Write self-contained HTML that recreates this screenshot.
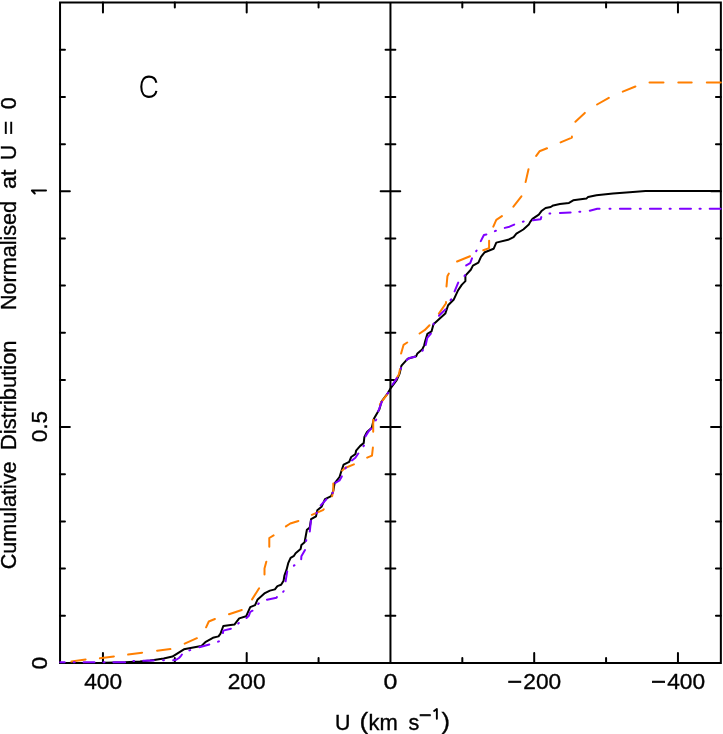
<!DOCTYPE html>
<html><head><meta charset="utf-8"><title>plot</title>
<style>
html,body{margin:0;padding:0;background:#fff;}
body{width:723px;height:734px;overflow:hidden;}
svg{display:block;}
text{font-family:"Liberation Sans",sans-serif;fill:#000;stroke:#000;stroke-width:0.35px;}
text.mn{stroke-width:0.7px;}
</style></head><body>
<svg width="723" height="734" viewBox="0 0 723 734">
<rect x="0" y="0" width="723" height="734" fill="#fff"/>
<g fill="none" stroke="#000" stroke-width="2" stroke-linecap="butt">
<path d="M60.05,2.60 H720.85 V662.90 H60.05 Z"/>
<path d="M390.45,2.60 V662.90"/>
<path d="M677.95,662.90 v-9.80 M677.95,2.60 v9.80 M606.08,662.90 v-4.90 M606.08,2.60 v4.90 M534.20,662.90 v-9.80 M534.20,2.60 v9.80 M462.32,662.90 v-4.90 M462.32,2.60 v4.90 M318.57,662.90 v-4.90 M318.57,2.60 v4.90 M246.70,662.90 v-9.80 M246.70,2.60 v9.80 M174.82,662.90 v-4.90 M174.82,2.60 v4.90 M102.95,662.90 v-9.80 M102.95,2.60 v9.80 M60.05,615.74 h4.90 M720.85,615.74 h-4.90 M385.55,615.74 h9.80 M60.05,568.58 h4.90 M720.85,568.58 h-4.90 M385.55,568.58 h9.80 M60.05,521.42 h4.90 M720.85,521.42 h-4.90 M385.55,521.42 h9.80 M60.05,474.26 h4.90 M720.85,474.26 h-4.90 M385.55,474.26 h9.80 M60.05,427.10 h9.80 M720.85,427.10 h-9.80 M380.65,427.10 h19.60 M60.05,379.94 h4.90 M720.85,379.94 h-4.90 M385.55,379.94 h9.80 M60.05,332.78 h4.90 M720.85,332.78 h-4.90 M385.55,332.78 h9.80 M60.05,285.62 h4.90 M720.85,285.62 h-4.90 M385.55,285.62 h9.80 M60.05,238.46 h4.90 M720.85,238.46 h-4.90 M385.55,238.46 h9.80 M60.05,191.30 h9.80 M720.85,191.30 h-9.80 M380.65,191.30 h19.60 M60.05,144.14 h4.90 M720.85,144.14 h-4.90 M385.55,144.14 h9.80 M60.05,96.98 h4.90 M720.85,96.98 h-4.90 M385.55,96.98 h9.80 M60.05,49.82 h4.90 M720.85,49.82 h-4.90 M385.55,49.82 h9.80" stroke-linecap="round"/>
</g>
<path d="M60.0,662.9 L105.0,662.8 L125.0,662.3 L140.0,661.5 L150.0,660.6 L154.0,659.9 L163.7,658.4 L172.4,656.6 L183.9,649.3 L201.2,646.1 L205.3,642.2 L212.9,637.8 L218.5,636.4 L220.5,633.6 L223.3,626.0 L234.4,624.6 L239.2,618.4 L246.1,616.3 L250.2,607.1 L255.1,605.1 L257.4,599.8 L264.9,593.1 L269.9,590.6 L274.9,589.4 L277.4,586.1 L281.1,584.8 L283.6,580.7 L284.4,575.7 L286.5,569.9 L288.2,563.2 L290.6,557.8 L294.0,555.8 L295.6,553.3 L300.6,549.1 L301.4,545.0 L304.6,542.3 L306.9,529.7 L309.7,527.6 L311.1,519.2 L316.0,516.4 L317.3,510.2 L321.5,506.8 L325.0,499.2 L331.2,496.1 L333.3,490.9 L334.6,483.3 L339.5,477.0 L341.5,470.8 L343.6,464.6 L349.2,461.8 L351.2,457.0 L355.4,454.2 L356.1,450.7 L360.2,445.9 L363.7,443.1 L364.4,436.9 L367.0,432.0 L371.8,427.8 L373.9,418.8 L379.4,409.2 L381.5,401.5 L387.7,393.3 L390.5,388.4 L396.7,380.1 L399.5,373.9 L401.5,365.6 L407.8,358.7 L416.1,356.3 L417.4,353.4 L422.4,349.2 L424.2,345.3 L425.3,340.8 L427.4,333.9 L431.5,331.4 L433.5,324.3 L438.4,319.8 L445.3,313.6 L448.1,305.3 L453.6,299.8 L457.8,290.8 L461.9,284.6 L465.4,281.1 L465.4,275.6 L470.8,269.8 L472.9,265.6 L478.4,262.6 L481.0,256.8 L484.8,252.2 L493.6,248.8 L496.3,242.6 L508.1,239.8 L513.6,237.1 L516.4,233.6 L523.3,229.5 L528.8,224.6 L530.2,221.9 L532.5,218.9 L538.8,214.6 L541.8,210.7 L545.6,208.0 L550.7,207.0 L553.2,205.4 L559.9,204.1 L569.0,202.9 L573.2,200.3 L586.4,198.6 L588.1,196.9 L596.4,195.2 L613.0,193.5 L629.6,192.2 L645.5,191.0 L721.0,191.0" fill="none" stroke="#000" stroke-width="2" stroke-linejoin="round"/>
<path d="M71.4,661.5 L85.6,659.5 M99.9,658.3 L113.9,656.4 M128.1,654.6 L142.1,652.7 M157.1,650.7 L170.4,649.1 M184.7,643.6 L196.9,638.2 M206.1,627.3 L208.8,621.5 L214.9,619.0 M229.0,614.2 L241.8,610.0 M252.1,599.4 L259.1,588.3 M264.5,574.4 L264.5,568.4 L266.3,561.7 M269.3,546.8 L269.3,538.0 L273.6,535.4 M285.9,526.4 L290.3,523.5 L298.4,521.0 M311.9,514.8 L322.9,510.2 L323.7,509.3 M332.1,496.2 L333.3,490.9 L333.3,483.5 M342.2,470.5 L345.0,468.0 L353.9,464.3 M367.2,457.7 L372.0,455.6 L372.9,447.5 M373.2,431.8 L373.2,419.7 M379.9,404.3 L384.3,398.1 L387.1,394.7 M395.1,380.7 L398.8,374.6 L400.0,369.3 M401.1,353.6 L403.6,344.8 L407.2,342.5 M419.6,333.5 L424.6,330.2 L429.5,325.3 M438.9,313.6 L446.0,303.3 L446.0,302.1 M446.5,286.4 L447.4,276.3 L448.8,273.6 M457.1,261.5 L470.0,256.2 M483.3,250.3 L489.1,248.1 L489.1,240.7 M493.3,226.6 L496.3,219.8 L501.9,216.1 M513.4,206.6 L521.4,196.3 M525.6,182.1 L528.5,169.2 M536.2,155.9 L539.5,151.3 L547.0,148.3 M560.6,142.4 L571.9,137.6 L571.9,136.6 M575.4,121.7 L584.8,112.9 M597.1,104.5 L608.8,97.8 M622.8,91.6 L635.4,86.5 M649.5,82.5 L663.5,82.5 M678.3,82.5 L691.7,82.5 M706.8,82.5 L720.8,82.5" fill="none" stroke="#ff7f00" stroke-width="2" stroke-linejoin="round" stroke-linecap="round"/>
<path d="M60.2,662.2 L64.7,662.2 M73.7,662.2 L74.7,662.2 M83.6,662.2 L94.5,662.2 M103.5,662.2 L104.5,662.2 M113.4,662.2 L125.1,662.2 M133.4,660.9 L134.1,660.9 M143.1,660.8 L153.8,660.5 M163.1,660.2 L163.9,660.2 M173.2,660.3 L176.0,659.8 L179.0,658.0 L181.0,655.8 L181.9,654.5 M189.4,650.4 L190.2,650.1 M199.3,647.3 L209.3,644.5 M218.1,641.7 L218.9,641.3 M222.9,633.1 L223.3,630.6 L230.9,628.7 M238.2,623.6 L238.8,623.0 M246.5,618.0 L248.9,615.7 L250.2,612.0 L252.5,610.7 M258.2,604.0 L258.8,603.4 M267.0,599.7 L276.5,597.7 L276.9,597.0 M283.2,591.8 L283.6,591.2 M285.6,581.3 L287.2,571.4 M293.9,565.6 L294.5,565.2 M301.2,559.2 L301.4,556.2 L305.0,550.1 M306.1,540.9 L306.3,540.1 M309.8,531.5 L310.9,520.8 M316.4,513.3 L317.0,512.7 M320.7,505.4 L326.4,499.2 M332.4,493.2 L332.8,492.6 M335.4,482.9 L339.5,480.5 L341.8,476.4 M345.5,468.4 L345.9,467.6 M351.9,460.5 L355.4,457.7 L358.3,453.5 M363.5,446.2 L363.9,445.6 M365.6,436.1 L368.5,431.4 L371.2,428.5 M375.8,420.4 L376.2,419.6 M378.3,411.2 L381.9,401.7 M387.4,393.7 L388.0,392.9 M392.4,384.8 L396.9,378.1 M400.8,368.8 L401.0,368.0 M406.8,360.1 L409.2,358.0 L415.2,356.8 M422.4,350.8 L423.0,350.0 M425.7,345.1 L427.3,337.8 L430.9,333.7 M433.5,324.4 L433.7,323.6 M439.0,315.8 L445.4,309.4 M450.6,300.2 L451.2,299.4 M454.6,291.4 L458.2,282.6 M464.5,276.0 L464.9,275.2 M466.2,265.4 L470.2,263.1 L472.0,258.4 M476.2,251.1 L476.6,250.5 M480.8,241.1 L483.9,235.0 L486.4,234.5 M494.9,231.1 L495.9,230.7 M504.8,227.9 L509.5,226.7 L514.2,224.6 M522.9,221.7 L523.7,221.5 M532.9,220.3 L540.7,219.2 L541.3,217.1 M549.5,213.6 L550.3,213.5 M559.9,213.0 L570.6,212.4 M579.3,211.8 L580.3,211.8 M589.8,210.8 L597.2,208.7 L599.6,208.7 M609.5,208.8 L610.5,208.8 M619.9,208.8 L630.6,208.8 M639.8,208.8 L640.8,208.8 M649.9,208.8 L661.0,208.8 M669.6,208.8 L670.7,208.8 M679.9,208.8 L691.0,208.8 M699.5,208.8 L700.7,208.8 M709.7,208.8 L720.6,208.8" fill="none" stroke="#7f00ff" stroke-width="2" stroke-linejoin="round" stroke-linecap="round"/>
<path d="M156.4,82.7 C155.7,79.0 153.2,76.6 148.9,76.6 C144.2,76.6 141.3,80.5 141.3,86.75 C141.3,93.0 144.2,96.9 148.9,96.9 C153.2,96.9 155.7,94.5 156.4,90.9" fill="none" stroke="#000" stroke-width="2.1" stroke-linecap="butt"/>
<g style="opacity:0.999">
<text transform="translate(15.9,569.3) rotate(-90)" font-size="21.2" textLength="107.8" lengthAdjust="spacingAndGlyphs">Cumulative</text>
<text transform="translate(15.9,450.0) rotate(-90)" font-size="21.2" textLength="109.5" lengthAdjust="spacingAndGlyphs">Distribution</text>
<text transform="translate(15.9,310.0) rotate(-90)" font-size="21.2" textLength="109.0" lengthAdjust="spacingAndGlyphs">Normalised</text>
<text transform="translate(15.9,189.0) rotate(-90)" font-size="21.2" textLength="19.5" lengthAdjust="spacingAndGlyphs">at</text>
<text transform="translate(15.9,160.3) rotate(-90)" font-size="21.2" textLength="15.5" lengthAdjust="spacingAndGlyphs">U</text>
<text transform="translate(15.9,135.0) rotate(-90)" font-size="21.2" textLength="14.3" lengthAdjust="spacingAndGlyphs">=</text>
<text transform="translate(15.9,109.2) rotate(-90)" font-size="21.2" textLength="11.9" lengthAdjust="spacingAndGlyphs">0</text>
<text transform="translate(46.5,669.6) rotate(-90)" font-size="21.2" textLength="12.7" lengthAdjust="spacingAndGlyphs">0</text>
<text transform="translate(46.6,442.3) rotate(-90)" font-size="21.2" textLength="31.4" lengthAdjust="spacingAndGlyphs">0.5</text>
<path d="M46.0,190.45 L31.9,190.45 L34.8,193.5" fill="none" stroke="#000" stroke-width="2" stroke-linecap="round" stroke-linejoin="round"/>
<text x="84.2" y="688.8" font-size="21.2" textLength="37.9" lengthAdjust="spacingAndGlyphs">400</text>
<text x="227.7" y="688.8" font-size="21.2" textLength="37.9" lengthAdjust="spacingAndGlyphs">200</text>
<text x="383.4" y="688.8" font-size="21.2" textLength="13.9" lengthAdjust="spacingAndGlyphs">0</text>
<text x="507.4" y="688.8" font-size="21.2" textLength="14.5" lengthAdjust="spacingAndGlyphs" class="mn">−</text>
<text x="523.3" y="688.8" font-size="21.2" textLength="37.9" lengthAdjust="spacingAndGlyphs">200</text>
<text x="651.3" y="688.8" font-size="21.2" textLength="14.5" lengthAdjust="spacingAndGlyphs" class="mn">−</text>
<text x="667.2" y="688.8" font-size="21.2" textLength="37.9" lengthAdjust="spacingAndGlyphs">400</text>
<text x="334.9" y="729.6" font-size="21.2" textLength="15.4" lengthAdjust="spacingAndGlyphs">U</text>
<text x="359.4" y="729.3" font-size="23.2" textLength="8.8" lengthAdjust="spacingAndGlyphs">(</text>
<text x="368.6" y="729.6" font-size="21.2" textLength="29.3" lengthAdjust="spacingAndGlyphs">km</text>
<text x="408.4" y="729.6" font-size="21.2" textLength="10.8" lengthAdjust="spacingAndGlyphs">s</text>
<text x="419.1" y="720.7" font-size="18.0" textLength="12.3" lengthAdjust="spacingAndGlyphs" class="mn">−</text>
<path d="M436.85,718.7 L436.85,708.9 L434.1,710.9" fill="none" stroke="#000" stroke-width="1.9" stroke-linecap="round" stroke-linejoin="round"/>
<text x="441.5" y="729.3" font-size="23.2" textLength="8.5" lengthAdjust="spacingAndGlyphs">)</text>
</g>
</svg>
</body></html>
